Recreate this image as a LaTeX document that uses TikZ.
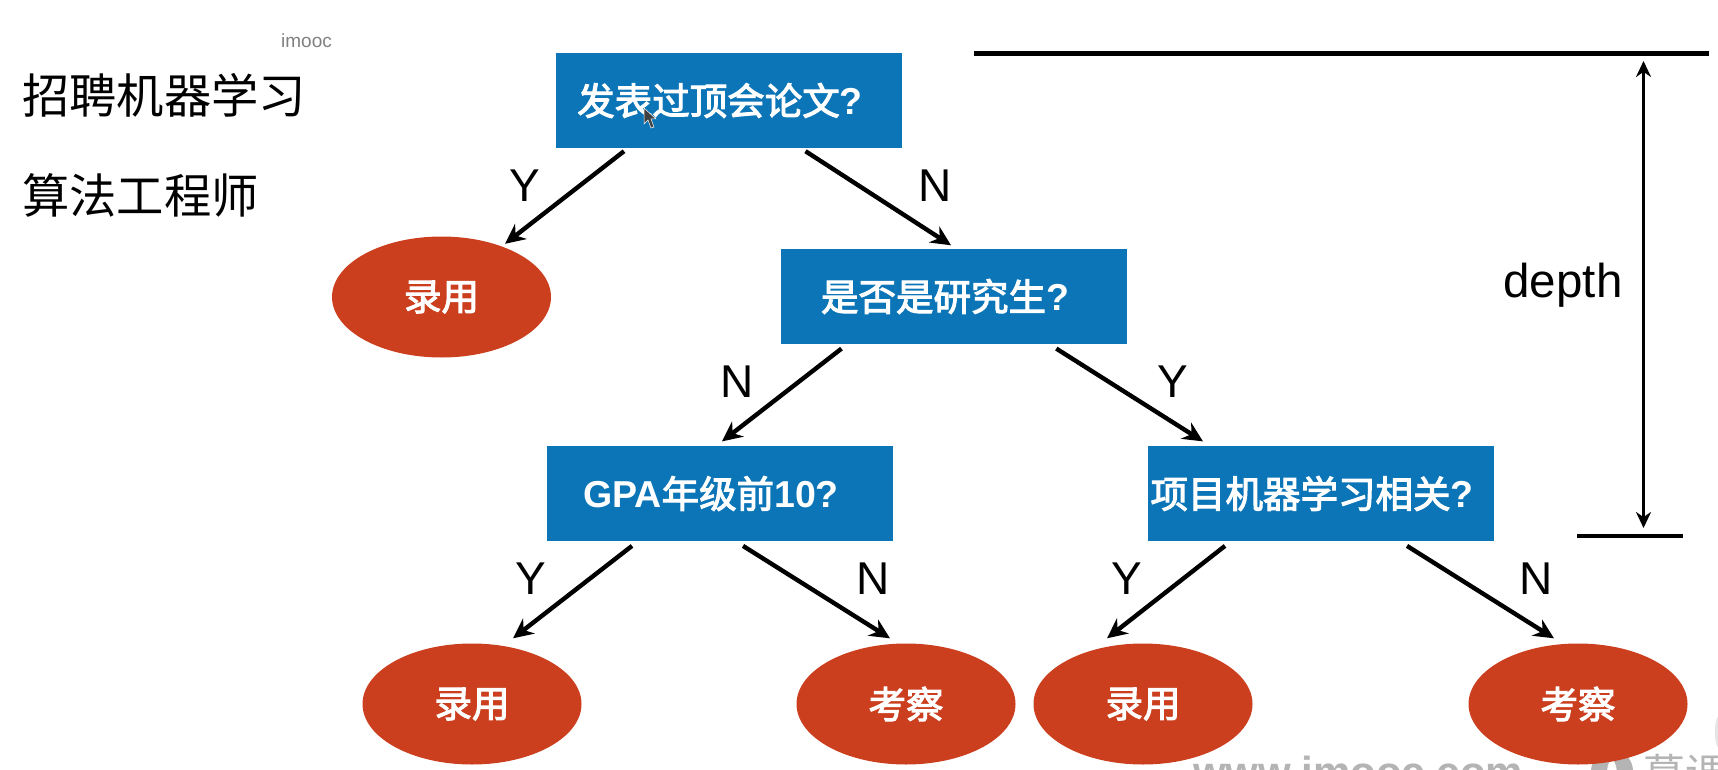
\documentclass[tikz,border=0pt]{standalone}
\usepackage{fontspec}
\setmainfont{Liberation Sans}
\newfontfamily\cjk{Noto Sans CJK SC}
\newfontfamily\cjkmed[FakeBold=2.8]{Noto Sans CJK SC}
\usetikzlibrary{arrows.meta,shapes.geometric}
\definecolor{boxblue}{HTML}{0B75B7}
\definecolor{leafred}{HTML}{CB3F1F}
\definecolor{wm}{HTML}{B4B4B4}
\tikzset{
  qbox/.style={rectangle,fill=boxblue,minimum width=346pt,minimum height=95pt,inner sep=0pt,text=white,text width=346pt,align=center,font=\fontsize{37.5}{40}\selectfont\bfseries},
  leaf/.style={ellipse,fill=leafred,minimum width=219pt,minimum height=121pt,inner sep=0pt,text=white,font=\fontsize{37.5}{40}\selectfont\cjkmed},
  conn/.style={line width=4.4pt,-{Stealth[length=20pt,width=19pt]}},
  rule/.style={line width=4.4pt},
  edgelab/.style={font=\fontsize{46}{50}\selectfont,inner sep=0pt},
  title/.style={font=\fontsize{47.3}{50}\selectfont\cjk,inner sep=0pt,anchor=west}
}
\begin{document}
\begin{tikzpicture}[x=1pt,y=-1pt]
\useasboundingbox (0,0) rectangle (1718,770);
\clip (0,0) rectangle (1718,770);
% watermark
\node[anchor=base west,inner sep=0pt,text=wm,font=\fontsize{42}{46}\selectfont\bfseries] (wm1) at (1193,786) {www.imooc.com};
\fill[wm] (1612,771) circle (21pt);
\fill[white] (1612,757) .. controls (1608,764) and (1606,768) .. (1608,774) -- (1616,774) .. controls (1618,768) and (1615,764) .. (1612,757) -- cycle;
\node[anchor=base west,inner sep=0pt,text=wm,font=\fontsize{42}{46}\selectfont\cjk] (wm2) at (1643,789) {慕课};
\fill[black!10] (1718,732) ellipse (3pt and 15pt);
% boxes
\node[qbox] (q1) at (729,100.5) {\hspace*{-18pt}{\mdseries\cjkmed 发表过顶会论文}?};
\node[qbox] (q2) at (954,296.5) {\hspace*{-18pt}{\mdseries\cjkmed 是否是研究生}?};
\node[qbox] (q3) at (720,493.5) {\hspace*{-18pt}GPA{\mdseries\cjkmed 年级前}10?};
\node[qbox] (q4) at (1321,493.5) {\hspace*{-18pt}{\mdseries\cjkmed 项目机器学习相关}?};
% leaves
\node[leaf] (l1) at (441.5,297) {录用};
\node[leaf] (l2) at (472,704) {录用};
\node[leaf] (l3) at (906,704) {考察};
\node[leaf] (l4) at (1143,704) {录用};
\node[leaf] (l5) at (1578,704) {考察};
% connectors
\draw[conn] ([xshift=-105pt,yshift=-3pt]q1.south) -- ([xshift=63.5pt,yshift=-7.5pt]l1.north);
\draw[conn] ([xshift=76.5pt,yshift=-3pt]q1.south) -- ([xshift=-3pt,yshift=3.5pt]q2.north);
\draw[conn] ([xshift=-112.5pt,yshift=-4.4pt]q2.south) -- ([xshift=2pt,yshift=4.4pt]q3.north);
\draw[conn] ([xshift=102.3pt,yshift=-4.4pt]q2.south) -- ([xshift=-118pt,yshift=4.4pt]q4.north);
\draw[conn] ([xshift=-88pt,yshift=-4.7pt]q3.south) -- ([xshift=41pt,yshift=5pt]l2.north);
\draw[conn] ([xshift=23pt,yshift=-4.7pt]q3.south) -- ([xshift=-16pt,yshift=5pt]l3.north);
\draw[conn] ([xshift=-96pt,yshift=-4.7pt]q4.south) -- ([xshift=-36pt,yshift=5pt]l4.north);
\draw[conn] ([xshift=86pt,yshift=-4.7pt]q4.south) -- ([xshift=-24pt,yshift=5pt]l5.north);
% depth
\coordinate (rt1) at (974,53.5);
\coordinate (rt2) at (1709,53.5);
\coordinate (rb1) at (1577,536);
\coordinate (rb2) at (1683,536);
\coordinate (dt) at (1643.5,61);
\coordinate (db) at (1643.5,528);
\draw[rule] (rt1) -- (rt2);
\draw[rule] (rb1) -- (rb2);
\draw[line width=3.6pt,{Stealth[length=16pt,width=15pt]}-{Stealth[length=16pt,width=15pt]}] (dt) -- (db);
% labels
\node[edgelab] (ly1) at (525,186) {Y};
\node[edgelab] (ln1) at (935,186) {N};
\node[edgelab] (ln2) at (737,382) {N};
\node[edgelab] (ly2) at (1173,382) {Y};
\node[edgelab] (ly3) at (531,579) {Y};
\node[edgelab] (ln3) at (873,579) {N};
\node[edgelab] (ly4) at (1127,579) {Y};
\node[edgelab] (ln4) at (1536,579) {N};
\node[inner sep=0pt,font=\fontsize{47.5}{50}\selectfont] (dl) at (1563,285) {depth};
\node[inner sep=0pt,text=black!50,font=\fontsize{19}{22}\selectfont] (im) at (306.5,40.5) {imooc};
\node[title] (t1) at (22,95) {招聘机器学习};
\node[title] (t2) at (22,195) {算法工程师};
% cursor
\fill[black!75,draw=white,line width=.5pt] (644,108) -- (644,124) -- (648,120) -- (651,128) -- (654,127) -- (651,119) -- (656,119) -- cycle;
\end{tikzpicture}
\end{document}
